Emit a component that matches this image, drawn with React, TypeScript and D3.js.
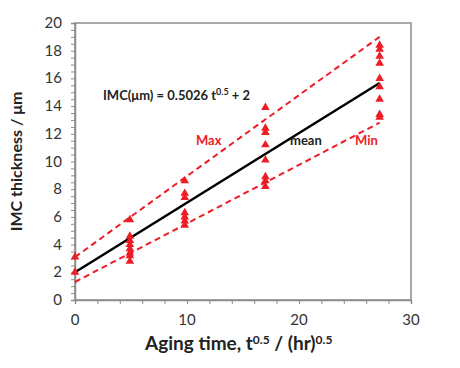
import React, { useEffect, useRef } from "react";
import * as d3 from "d3";

// aging time in t^0.5 (hr^0.5) for each measurement group
const times = [0, 4.9, 9.8, 17.0, 27.2];
// measured IMC thickness (µm) at each time
const thickness = [
  [3.1, 2.0],
  [5.8, 4.6, 4.3, 4.0, 3.7, 3.4, 3.2, 2.8],
  [8.6, 7.7, 7.4, 6.3, 6.0, 5.7, 5.4],
  [13.9, 12.4, 12.1, 11.2, 10.1, 8.9, 8.6, 8.2],
  [18.4, 18.1, 17.6, 17.1, 16.0, 15.4, 14.5, 13.4, 13.2],
];
const lineEnds = [0, 27.2];
const maxLine = [3.1, 19.0];
const meanLine = [2.0, 15.67];
const minLine = [1.3, 12.8];
const xTicks = [0, 10, 20, 30];
const yTicks = [0, 2, 4, 6, 8, 10, 12, 14, 16, 18, 20];

const RED = "#ee1c25";
const FONT = "Lato, 'Open Sans', sans-serif";

const App: React.FC = () => {
  const svgRef = useRef<SVGSVGElement | null>(null);

  useEffect(() => {
    const width = 460, height = 368;
    const left = 75, right = 411, top = 23, bottom = 300;
    const svg = d3.select(svgRef.current).attr("width", width).attr("height", height);
    svg.selectAll("*").remove();

    const x = d3.scaleLinear().domain([0, 30]).range([left, right]);
    const y = d3.scaleLinear().domain([0, 20]).range([bottom, top]);

    // frame
    svg.append("rect")
      .attr("x", left).attr("y", top)
      .attr("width", right - left).attr("height", bottom - top)
      .attr("fill", "none").attr("stroke", "#8c8c8c").attr("stroke-width", 1.5);

    const xAxis = svg.append("g").attr("transform", `translate(0,${bottom})`)
      .call(d3.axisBottom(x).tickValues(d3.range(0, 31, 2)).tickSize(4).tickFormat(() => ""));
    const yAxis = svg.append("g").attr("transform", `translate(${left},0)`)
      .call(d3.axisLeft(y).tickValues(d3.range(0, 20.01, 0.5)).tickSize(4).tickFormat(() => ""));
    [xAxis, yAxis].forEach(g => {
      g.select(".domain").attr("stroke", "#8c8c8c").attr("stroke-width", 1.5);
      g.selectAll(".tick line").attr("stroke", "#8c8c8c").attr("stroke-width", 1);
    });

    svg.append("g").selectAll("text").data(xTicks).join("text")
      .attr("x", d => x(d)).attr("y", bottom + 25)
      .attr("text-anchor", "middle")
      .attr("font-family", FONT).attr("font-size", 15).attr("fill", "#333")
      .text(d => d);
    svg.append("g").selectAll("text").data(yTicks).join("text")
      .attr("x", left - 13).attr("y", d => y(d) + 5)
      .attr("text-anchor", "end")
      .attr("font-family", FONT).attr("font-size", 15).attr("fill", "#333")
      .text(d => d);

    const seg = (ends: number[]) => d3.line<number>()
      .x((_, i) => x(lineEnds[i]))
      .y(d => y(d))(ends);

    svg.append("path").attr("d", seg(maxLine)!)
      .attr("fill", "none").attr("stroke", RED).attr("stroke-width", 2).attr("stroke-dasharray", "6,4");
    svg.append("path").attr("d", seg(minLine)!)
      .attr("fill", "none").attr("stroke", RED).attr("stroke-width", 2).attr("stroke-dasharray", "6,4");
    svg.append("path").attr("d", seg(meanLine)!)
      .attr("fill", "none").attr("stroke", "#000").attr("stroke-width", 2.5);

    const pts = times.flatMap((t, i) => thickness[i].map(v => ({ t, v })));
    svg.append("g").selectAll("path").data(pts).join("path")
      .attr("transform", d => `translate(${x(d.t)},${y(d.v)})`)
      .attr("d", d3.symbol().type(d3.symbolTriangle).size(32)()!)
      .attr("fill", RED);

    // annotations
    const eq = svg.append("text").attr("x", 103).attr("y", 100)
      .attr("font-family", FONT).attr("font-weight", "bold").attr("font-size", 13).attr("fill", "#222");
    eq.append("tspan").text("IMC(μm) = 0.5026 t");
    eq.append("tspan").attr("font-size", 9).attr("dy", -5).text("0.5");
    eq.append("tspan").attr("dy", 5).text(" + 2");

    svg.append("text").attr("x", 196).attr("y", 145)
      .attr("font-family", FONT).attr("font-weight", "bold").attr("font-size", 13).attr("fill", RED).text("Max");
    svg.append("text").attr("x", 290).attr("y", 145)
      .attr("font-family", FONT).attr("font-weight", "bold").attr("font-size", 13).attr("fill", "#222").text("mean");
    svg.append("text").attr("x", 355).attr("y", 145)
      .attr("font-family", FONT).attr("font-weight", "bold").attr("font-size", 13).attr("fill", RED).text("Min");

    // axis titles
    const xt = svg.append("text").attr("x", 145).attr("y", 350)
      .attr("font-family", FONT).attr("font-weight", "bold").attr("font-size", 19).attr("fill", "#222");
    xt.append("tspan").text("Aging time, t");
    xt.append("tspan").attr("font-size", 12).attr("dy", -6).text("0.5");
    xt.append("tspan").attr("dy", 6).text(" / (hr)");
    xt.append("tspan").attr("font-size", 12).attr("dy", -6).text("0.5");

    svg.append("text")
      .attr("transform", `translate(22,${(top + bottom) / 2}) rotate(-90)`)
      .attr("text-anchor", "middle")
      .attr("font-family", FONT).attr("font-weight", "bold").attr("font-size", 16).attr("fill", "#222")
      .text("IMC thickness / μm");
  }, []);

  return (
    <div style={{ position: "absolute", left: 0, top: 0 }}>
      <svg ref={svgRef} style={{ display: "block", background: "#fff" }}></svg>
    </div>
  );
};

export default App;
